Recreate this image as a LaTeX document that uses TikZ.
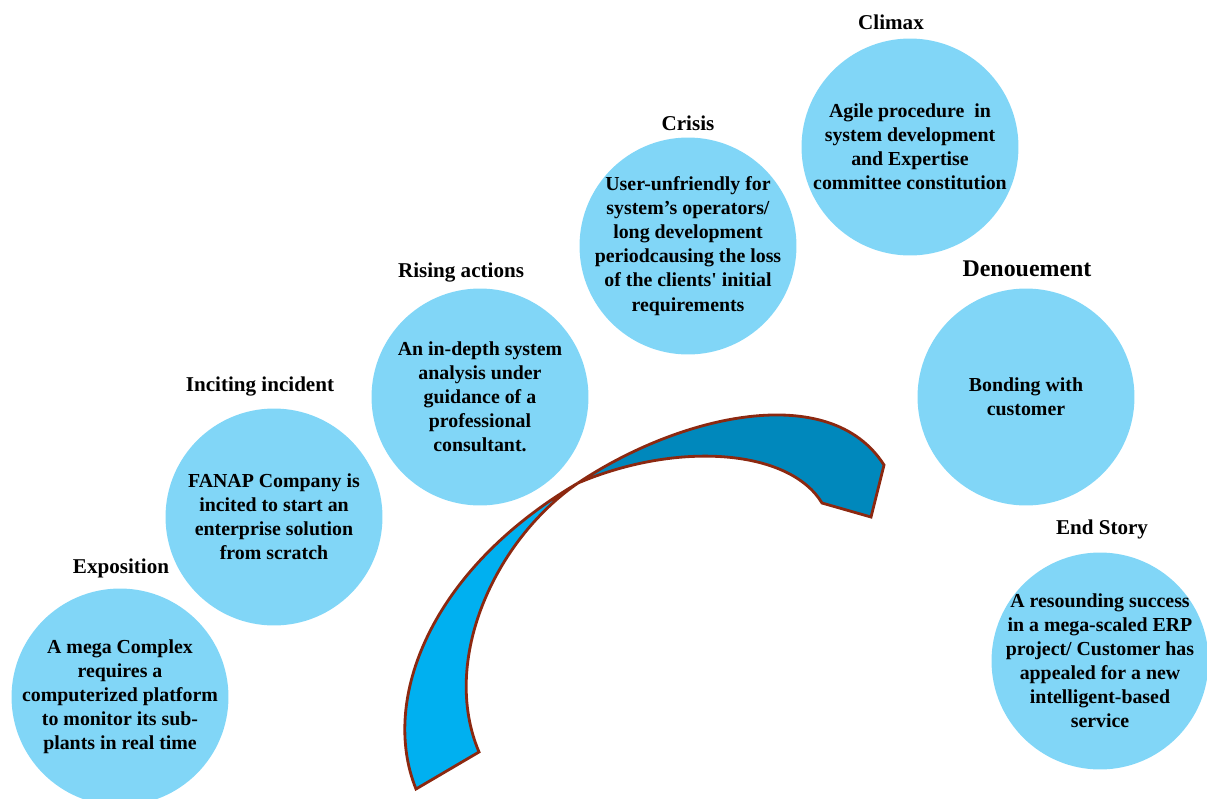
\documentclass[tikz,border=0pt]{standalone}
\usepackage{fontspec}
\setmainfont{Liberation Serif}
\newcommand{\straightq}{\XeTeXglyph\XeTeXglyphindex "quotesingle"\relax}
\definecolor{circ}{RGB}{129,214,247}
\definecolor{ribA}{RGB}{0,176,240}
\definecolor{ribB}{RGB}{0,136,188}
\definecolor{ribline}{RGB}{140,40,16}
\begin{document}
\begin{tikzpicture}[x=0.02cm,y=-0.02cm,
  stage/.style={circle,fill=circ,minimum size=4.34cm,inner sep=-25pt,align=center,
    font=\bfseries\fontsize{11.3}{13.7}\selectfont},
  title/.style={font=\bfseries\fontsize{12}{14}\selectfont,inner sep=0pt},
  ribbon/.style={draw=ribline,line width=1.6pt,line join=miter}]
\useasboundingbox (0,0) rectangle (1207,798);
% ribbon
\coordinate (cross) at (578,483);
\coordinate (lt1) at (416,789);
\coordinate (lt2) at (479,752);
\coordinate (rt1) at (884,465);
\coordinate (rt2) at (871,517);
\coordinate (rt3) at (822,503);
\filldraw[ribbon,fill=ribA] (lt1) .. controls (380,700) and (430,570) .. (cross)
  .. controls (495,540) and (440,660) .. (lt2) -- cycle;
\filldraw[ribbon,fill=ribB] (cross) .. controls (680,415) and (830,380) .. (rt1)
  -- (rt2) -- (rt3) .. controls (790,450) and (680,440) .. cycle;
% circles
\node[stage] (expo) at (120,697) {A mega Complex\\requires a\\computerized platform\\to monitor its sub-\\plants in real time};
\node[stage] (inci) at (274,517) {FANAP Company is\\incited to start an\\enterprise solution\\from scratch};
\node[stage] (rise) at (480,397) {An in-depth system\\analysis under\\guidance of a\\professional\\consultant.};
\node[stage] (cris) at (688,246) {User-unfriendly for\\system’s operators/\\long development\\periodcausing the loss\\of the clients\straightq{} initial\\requirements};
\node[stage] (clim) at (910,147) {Agile procedure~ in\\system development\\and Expertise\\committee constitution};
\node[stage] (deno) at (1026,397) {Bonding with\\customer};
\node[stage] (endst) at (1100,661) {A resounding success\\in a mega-scaled ERP\\project/ Customer has\\appealed for a new\\intelligent-based\\service};
% titles
\node[title] (t1) at (121,568) {Exposition};
\node[title] (t2) at (260,387) {Inciting incident};
\node[title] (t3) at (461,273) {Rising actions};
\node[title] (t4) at (688,123) {Crisis};
\node[title] (t5) at (891,22) {Climax};
\node[title,font=\bfseries\fontsize{13.6}{16}\selectfont] (t6) at (1027,269) {Denouement};
\node[title] (t7) at (1102,529) {End Story};
\end{tikzpicture}
\end{document}
